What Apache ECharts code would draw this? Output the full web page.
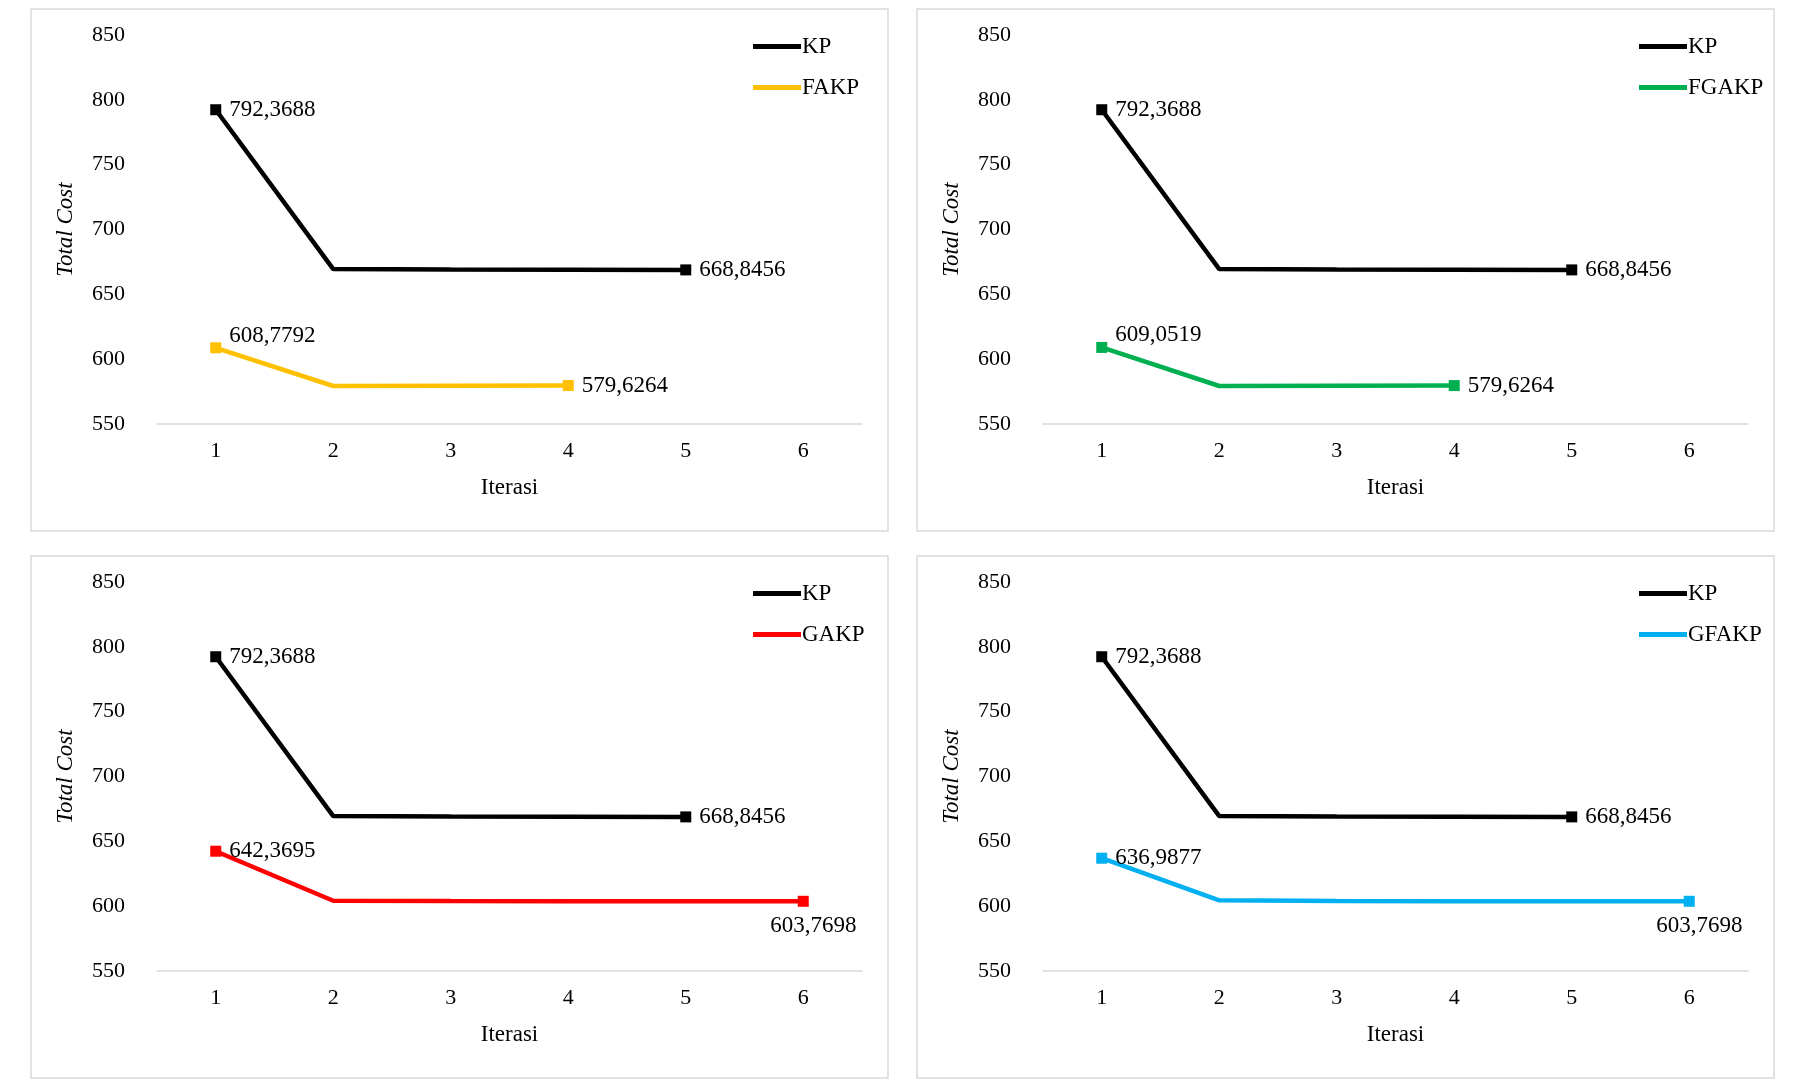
<!DOCTYPE html>
<html><head><meta charset="utf-8">
<script src="https://cdn.jsdelivr.net/npm/echarts@6/dist/echarts.min.js"></script>
<style>html,body{margin:0;background:#fff}#c{width:1800px;height:1080px}</style>
</head><body><div id="c"></div>
<script>
var iterations = ['1', '2', '3', '4', '5', '6'];
var kp = [792.3688, 669.5, 669.1, 669.0, 668.8456];
var fakp = [608.7792, 579.3, 579.5, 579.6264];
var fgakp = [609.0519, 579.3, 579.5, 579.6264];
var gakp = [642.3695, 604.2, 603.9, 603.8, 603.8, 603.7698];
var gfakp = [636.9877, 604.5, 604.0, 603.8, 603.8, 603.7698];

var panels = [
    {name: 'FAKP', data: fakp, color: '#ffc000', x: 0, y: 0, firstUp: true, lastBelow: false},
    {name: 'FGAKP', data: fgakp, color: '#00b050', x: 1, y: 0, firstUp: true, lastBelow: false},
    {name: 'GAKP', data: gakp, color: '#ff0000', x: 0, y: 1, firstUp: false, lastBelow: true},
    {name: 'GFAKP', data: gfakp, color: '#00b0f0', x: 1, y: 1, firstUp: false, lastBelow: true}
];
var font = 'Liberation Serif';
var fmt = function (v) { return v.toFixed(4).replace('.', ','); };

function items(arr, firstUp, lastBelow) {
    return arr.map(function (v, i) {
        var first = i === 0, last = i === arr.length - 1;
        var it = {value: v, symbolSize: (first || last) ? 11 : 0};
        if (first || last) {
            var lab = {show: true, position: 'right', distance: 8, formatter: fmt(v)};
            if (first && firstUp) lab.offset = [0, -12];
            if (last && lastBelow) { lab.position = 'bottom'; lab.offset = [10, 2]; lab.distance = 6; }
            it.label = lab;
        }
        return it;
    });
}

var grids = [], xAxes = [], yAxes = [], series = [], legends = [], graphics = [];
panels.forEach(function (p, k) {
    var ox = p.x * 886, oy = p.y * 547;
    graphics.push({type: 'rect', shape: {x: 31 + ox, y: 9 + oy, width: 857, height: 522},
        style: {fill: 'none', stroke: '#d9d9d9', lineWidth: 1.5}});
    grids.push({left: 157 + ox, width: 705, top: 35 + oy, height: 389});
    xAxes.push({gridIndex: k, type: 'category', data: iterations, boundaryGap: true,
        name: 'Iterasi', nameLocation: 'middle', nameGap: 52,
        nameTextStyle: {fontFamily: font, fontSize: 23, color: '#000'},
        axisLine: {lineStyle: {color: '#d9d9d9', width: 1.5}}, axisTick: {show: false},
        axisLabel: {fontFamily: font, fontSize: 22, color: '#000', margin: 16}});
    yAxes.push({gridIndex: k, type: 'value', min: 550, max: 850, interval: 50,
        name: 'Total Cost', nameLocation: 'middle', nameGap: 80,
        nameTextStyle: {fontFamily: font, fontSize: 23, fontStyle: 'italic', color: '#000'},
        splitLine: {show: false}, axisLine: {show: false}, axisTick: {show: false},
        axisLabel: {fontFamily: font, fontSize: 22, color: '#000', margin: 32}});
    var lab = {fontFamily: font, fontSize: 23, color: '#000'};
    series.push({name: 'KP', type: 'line', xAxisIndex: k, yAxisIndex: k, data: items(kp, false, false),
        symbol: 'rect', showAllSymbol: true, lineStyle: {color: '#000', width: 4.5},
        itemStyle: {color: '#000'}, label: lab});
    series.push({name: p.name, type: 'line', xAxisIndex: k, yAxisIndex: k,
        data: items(p.data, p.firstUp, p.lastBelow),
        symbol: 'rect', showAllSymbol: true, lineStyle: {color: p.color, width: 4.5},
        itemStyle: {color: p.color}, label: lab});
    legends.push({data: [{name: 'KP', icon: 'rect', itemStyle: {color: '#000'}},
            {name: p.name, icon: 'rect', itemStyle: {color: p.color}}],
        orient: 'vertical', left: 748 + ox, top: 30 + oy, itemGap: 18,
        itemWidth: 48, itemHeight: 5,
        textStyle: {fontFamily: font, fontSize: 23, color: '#000', padding: [0, 0, 0, -4]}});
});

var chart = echarts.init(document.getElementById('c'));
chart.setOption({
    animation: false,
    graphic: graphics,
    legend: legends,
    grid: grids,
    xAxis: xAxes,
    yAxis: yAxes,
    series: series
});
</script>
</body></html>
